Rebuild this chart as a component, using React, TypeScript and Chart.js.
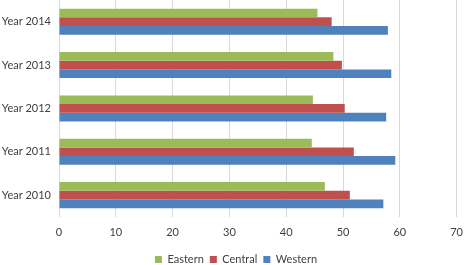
import React, { useEffect, useRef } from "react";
import { Chart, registerables } from "chart.js";

Chart.register(...registerables);

const categories = ["Year 2014", "Year 2013", "Year 2012", "Year 2011", "Year 2010"];
const eastern = [45.5, 48.3, 44.7, 44.5, 46.8];
const central = [48.0, 49.8, 50.3, 51.9, 51.2];
const western = [57.9, 58.5, 57.6, 59.2, 57.1];
const xTicks = [0, 10, 20, 30, 40, 50, 60, 70];

export default function App() {
  const ref = useRef<HTMLCanvasElement | null>(null);
  useEffect(() => {
    document.body.style.margin = "0";
    const font = { family: "Lato, 'Open Sans', sans-serif", size: 11 };
    const chart = new Chart(ref.current!, {
      type: "bar",
      data: {
        labels: categories,
        datasets: [
          { label: "Eastern", data: eastern, backgroundColor: "#9BBB59" },
          { label: "Central", data: central, backgroundColor: "#C0504D" },
          { label: "Western", data: western, backgroundColor: "#4F81BD" },
        ],
      },
      options: {
        indexAxis: "y",
        animation: false,
        responsive: false,
        maintainAspectRatio: false,
        datasets: { bar: { barPercentage: 1, categoryPercentage: 0.6 } },
        layout: { padding: { top: 0, right: 0, left: 0, bottom: -10 } },
        plugins: {
          tooltip: { enabled: false },
          legend: {
            position: "bottom",
            labels: { boxWidth: 7, boxHeight: 7, padding: 6, color: "#404040", font },
          },
        },
        scales: {
          x: {
            min: 0,
            max: 70,
            afterBuildTicks: (s: any) => {
              s.ticks = xTicks.map((v) => ({ value: v }));
            },
            grid: { color: "#d9d9d9", drawTicks: false },
            border: { display: false },
            ticks: { color: "#404040", font, padding: 9 },
          },
          y: {
            grid: { display: false, drawTicks: false },
            border: { display: false },
            ticks: { color: "#404040", font, padding: 8 },
            afterFit: (s: any) => {
              s.width = 59;
              s.paddingTop = 0;
              s.paddingBottom = 0;
            },
          },
        },
      },
    });
    return () => chart.destroy();
  }, []);
  return <canvas ref={ref} width={472} height={265} style={{ display: "block" }} />;
}
